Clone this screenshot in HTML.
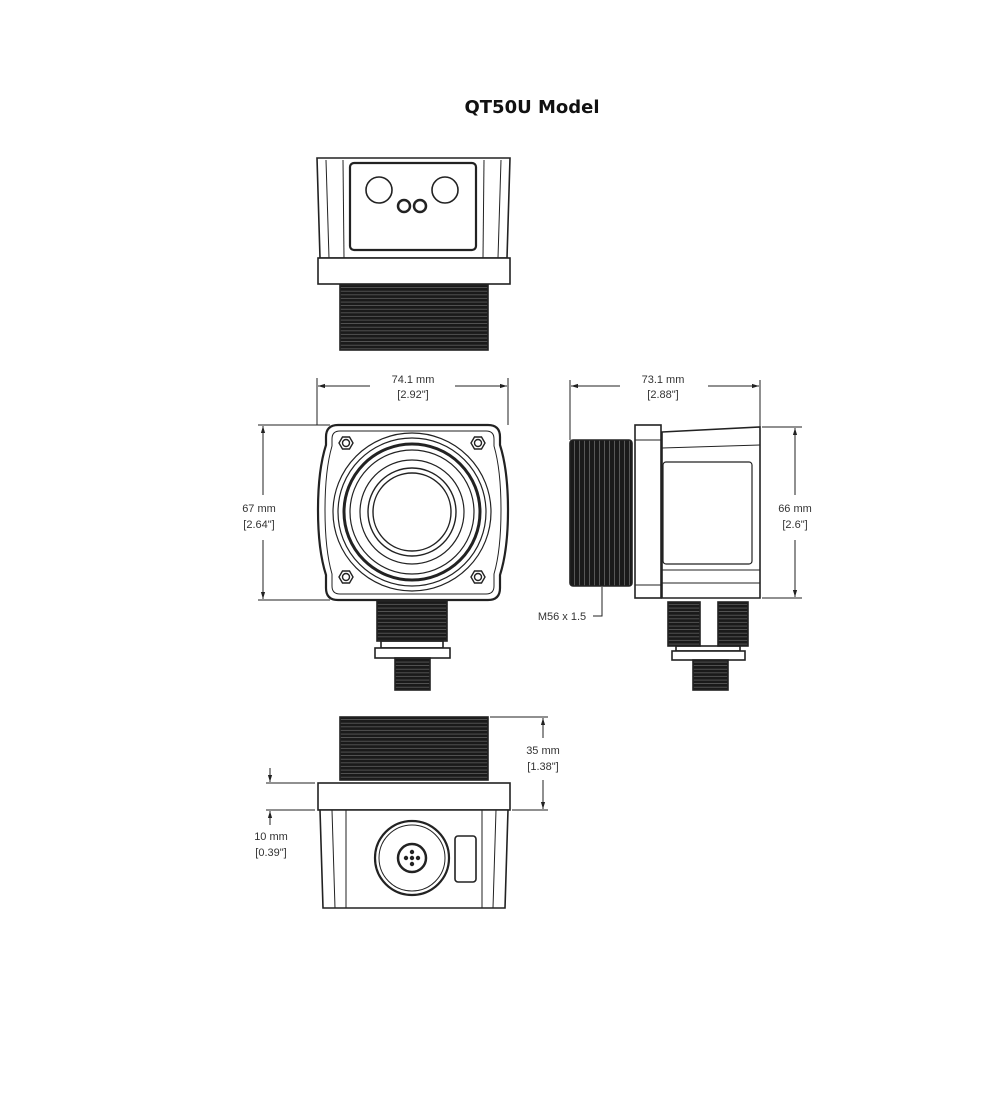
<!DOCTYPE html>
<html><head><meta charset="utf-8"><style>
html,body{margin:0;padding:0;background:#fff;}
svg{display:block;}
text{font-family:"Liberation Sans",Arial,sans-serif;font-size:11px;fill:#333;}
</style></head><body>
<svg width="1000" height="1100" viewBox="0 0 1000 1100" xmlns="http://www.w3.org/2000/svg">
<defs>
<pattern id="hth" width="4" height="3.6" patternUnits="userSpaceOnUse"><rect width="4" height="3.6" fill="#1a1a1a"/><rect y="2.9" width="4" height="0.7" fill="#666"/></pattern>
<pattern id="vth" width="5" height="4" patternUnits="userSpaceOnUse"><rect width="5" height="4" fill="#1a1a1a"/><rect x="4.2" width="0.8" height="4" fill="#666"/></pattern>
<marker id="ar" viewBox="0 0 10 10" refX="10" refY="5" markerWidth="7" markerHeight="7" orient="auto-start-reverse"><path d="M0,2 L10,5 L0,8z" fill="#222"/></marker>
</defs>
<text x="532" y="113" text-anchor="middle" style="font-family:'DejaVu Sans',sans-serif;font-weight:bold;font-size:18px;fill:#111">QT50U Model</text>
<g fill="none" stroke="#222" stroke-width="1.6">
<!-- top view -->
<path d="M317,158 H510 L507,258 H320 Z" fill="#fff"/>
<line x1="326" y1="160" x2="329" y2="258" stroke-width="1"/>
<line x1="343" y1="160" x2="344" y2="258" stroke-width="1"/>
<line x1="501" y1="160" x2="498" y2="258" stroke-width="1"/>
<line x1="484" y1="160" x2="483" y2="258" stroke-width="1"/>
<rect x="350" y="163" width="126" height="87" rx="4" stroke-width="2.2"/>
<circle cx="379" cy="190" r="13"/><circle cx="445" cy="190" r="13"/>
<circle cx="404" cy="206" r="6" stroke-width="2.5"/><circle cx="420" cy="206" r="6" stroke-width="2.5"/>
<rect x="318" y="258" width="192" height="26" fill="#fff"/>
<rect x="340" y="285" width="148" height="65" fill="url(#hth)" stroke="#222"/>
<!-- front view -->
<path d="M338,425 H488 Q500,425 500,437 V445 Q508,470 508,510 Q508,550 500,575 V588 Q500,600 488,600 H338 Q326,600 326,588 V575 Q318,550 318,510 Q318,470 326,445 V437 Q326,425 338,425 Z" fill="#fff" stroke-width="2.2"/>
<path d="M340,431 H486 Q494,431 494,439 V446 Q501,470 501,510 Q501,550 494,574 V586 Q494,594 486,594 H340 Q332,594 332,586 V574 Q325,550 325,510 Q325,470 332,446 V439 Q332,431 340,431 Z" stroke-width="1"/>
<circle cx="412" cy="512" r="79" stroke-width="1.2"/>
<circle cx="412" cy="512" r="74" stroke-width="1.2"/>
<circle cx="412" cy="512" r="68" stroke-width="3"/>
<circle cx="412" cy="512" r="62" stroke-width="1.2"/>
<circle cx="412" cy="512" r="52" stroke-width="1.2"/>
<circle cx="412" cy="512" r="44" stroke-width="1.4"/>
<circle cx="412" cy="512" r="39" stroke-width="1.4"/>
<g stroke-width="1.4">
<polygon points="339,443 342.5,437 349.5,437 353,443 349.5,449 342.5,449"/><circle cx="346" cy="443" r="3.5"/>
<polygon points="471,443 474.5,437 481.5,437 485,443 481.5,449 474.5,449"/><circle cx="478" cy="443" r="3.5"/>
<polygon points="339,577 342.5,571 349.5,571 353,577 349.5,583 342.5,583"/><circle cx="346" cy="577" r="3.5"/>
<polygon points="471,577 474.5,571 481.5,571 485,577 481.5,583 474.5,583"/><circle cx="478" cy="577" r="3.5"/>
</g>
<rect x="377" y="601" width="70" height="40" fill="url(#hth)"/>
<rect x="381" y="641" width="62" height="7"/>
<rect x="375" y="648" width="75" height="10" fill="#fff"/>
<rect x="395" y="658" width="35" height="32" fill="url(#hth)"/>
<!-- side view -->
<rect x="570" y="440" width="62" height="146" rx="3" fill="url(#vth)"/>
<rect x="635" y="425" width="26" height="173" fill="#fff"/>
<line x1="635" y1="440" x2="661" y2="440" stroke-width="1"/><line x1="635" y1="585" x2="661" y2="585" stroke-width="1"/>
<path d="M662,432 L760,427 V598 H662 Z" fill="#fff"/>
<line x1="662" y1="448" x2="760" y2="445" stroke-width="1"/>
<line x1="662" y1="570" x2="760" y2="570" stroke-width="1"/>
<line x1="662" y1="583" x2="760" y2="583" stroke-width="1"/>
<rect x="663" y="462" width="89" height="102" rx="3" stroke-width="1.2"/>
<rect x="668" y="602" width="32" height="44" fill="url(#hth)"/>
<rect x="718" y="602" width="30" height="44" fill="url(#hth)"/>
<line x1="700" y1="602" x2="700" y2="646" stroke-width="1"/><line x1="718" y1="602" x2="718" y2="646" stroke-width="1"/>
<rect x="676" y="646" width="64" height="5"/>
<rect x="672" y="651" width="73" height="9" fill="#fff"/>
<rect x="693" y="660" width="35" height="30" fill="url(#hth)"/>
<!-- bottom view -->
<rect x="340" y="717" width="148" height="63" fill="url(#hth)"/>
<rect x="318" y="783" width="192" height="27" fill="#fff"/>
<path d="M320,810 H508 L505,908 H323 Z" fill="#fff"/>
<line x1="332" y1="810" x2="335" y2="908" stroke-width="1"/>
<line x1="346" y1="810" x2="346" y2="908" stroke-width="1"/>
<line x1="496" y1="810" x2="493" y2="908" stroke-width="1"/>
<line x1="482" y1="810" x2="482" y2="908" stroke-width="1"/>
<circle cx="412" cy="858" r="37" stroke-width="2.2"/>
<circle cx="412" cy="858" r="33" stroke-width="1"/>
<circle cx="412" cy="858" r="14" stroke-width="2.5"/>
<rect x="455" y="836" width="21" height="46" rx="3"/>
</g>
<g fill="#222"><circle cx="412" cy="852" r="2.2"/><circle cx="412" cy="864" r="2.2"/><circle cx="406" cy="858" r="2.2"/><circle cx="418" cy="858" r="2.2"/><circle cx="412" cy="858" r="2.2"/></g>
<!-- dimensions -->
<g stroke="#222" stroke-width="1" fill="none">
<line x1="317" y1="378" x2="317" y2="425"/><line x1="508" y1="378" x2="508" y2="425"/>
<line x1="318" y1="386" x2="370" y2="386" marker-start="url(#ar)"/><line x1="455" y1="386" x2="507" y2="386" marker-end="url(#ar)"/>
<line x1="258" y1="425" x2="330" y2="425"/><line x1="258" y1="600" x2="330" y2="600"/>
<line x1="263" y1="426" x2="263" y2="495" marker-start="url(#ar)"/><line x1="263" y1="540" x2="263" y2="599" marker-end="url(#ar)"/>
<line x1="570" y1="380" x2="570" y2="440"/><line x1="760" y1="380" x2="760" y2="427"/>
<line x1="571" y1="386" x2="620" y2="386" marker-start="url(#ar)"/><line x1="708" y1="386" x2="759" y2="386" marker-end="url(#ar)"/>
<line x1="762" y1="427" x2="802" y2="427"/><line x1="762" y1="598" x2="802" y2="598"/>
<line x1="795" y1="428" x2="795" y2="495" marker-start="url(#ar)"/><line x1="795" y1="540" x2="795" y2="597" marker-end="url(#ar)"/>
<polyline points="593,616 602,616 602,587"/>
<line x1="490" y1="717" x2="548" y2="717"/><line x1="512" y1="810" x2="548" y2="810"/>
<line x1="543" y1="718" x2="543" y2="738" marker-start="url(#ar)"/><line x1="543" y1="780" x2="543" y2="809" marker-end="url(#ar)"/>
<line x1="266" y1="783" x2="315" y2="783"/><line x1="266" y1="810" x2="315" y2="810"/>
<line x1="270" y1="768" x2="270" y2="782" marker-end="url(#ar)"/><line x1="270" y1="811" x2="270" y2="825" marker-start="url(#ar)"/>
</g>
<text x="413" y="383" text-anchor="middle">74.1 mm</text><text x="413" y="398" text-anchor="middle">[2.92"]</text>
<text x="259" y="512" text-anchor="middle">67 mm</text><text x="259" y="528" text-anchor="middle">[2.64"]</text>
<text x="663" y="383" text-anchor="middle">73.1 mm</text><text x="663" y="398" text-anchor="middle">[2.88"]</text>
<text x="795" y="512" text-anchor="middle">66 mm</text><text x="795" y="528" text-anchor="middle">[2.6"]</text>
<text x="562" y="620" text-anchor="middle">M56 x 1.5</text>
<text x="543" y="754" text-anchor="middle">35 mm</text><text x="543" y="770" text-anchor="middle">[1.38"]</text>
<text x="271" y="840" text-anchor="middle">10 mm</text><text x="271" y="856" text-anchor="middle">[0.39"]</text>
</svg>
</body></html>
